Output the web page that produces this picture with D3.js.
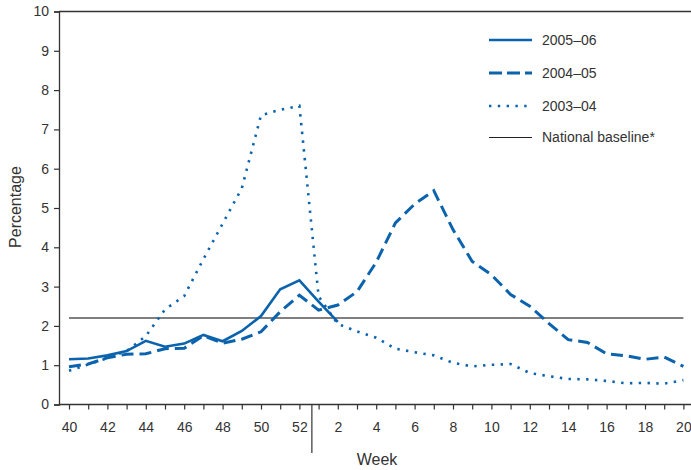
<!DOCTYPE html>
<html>
<head>
<meta charset="utf-8">
<script src="https://cdn.jsdelivr.net/npm/d3@7"></script>
<style>
  body { margin: 0; background: #fff; }
  svg text { font-family: "Liberation Sans", Arial, Helvetica, sans-serif; fill: #333; }
</style>
</head>
<body>
<svg id="chart" width="691" height="470"></svg>
<script>
// week labels, 40..52 then 1..20 of the next year
const weeks = [40, 41, 42, 43, 44, 45, 46, 47, 48, 49, 50, 51, 52,
  1, 2, 3, 4, 5, 6, 7, 8, 9, 10, 11, 12, 13, 14, 15, 16, 17, 18, 19, 20];

const season0506 = [1.15, 1.17, 1.25, 1.36, 1.62, 1.47, 1.55, 1.77, 1.61, 1.87,
  2.25, 2.93, 3.16, 2.62, 2.10];

const season0405 = [0.96, 1.03, 1.19, 1.28, 1.29, 1.42, 1.43, 1.75, 1.56, 1.66,
  1.85, 2.36, 2.78, 2.40, 2.53, 2.87, 3.62, 4.62, 5.10, 5.44, 4.45, 3.64, 3.30,
  2.80, 2.50, 2.06, 1.65, 1.58, 1.29, 1.24, 1.15, 1.21, 0.97];

const season0304 = [0.86, 1.02, 1.18, 1.36, 1.74, 2.42, 2.76, 3.70, 4.60, 5.50,
  7.36, 7.50, 7.60, 2.75, 2.05, 1.86, 1.70, 1.42, 1.33, 1.25, 1.06, 0.97, 1.01,
  1.03, 0.80, 0.72, 0.65, 0.64, 0.60, 0.54, 0.55, 0.53, 0.62];

const baseline = 2.2;
const yTicks = [0, 1, 2, 3, 4, 5, 6, 7, 8, 9, 10];

const seriesNames = ['2005–06', '2004–05', '2003–04'];
const blue = '#0b63ad';

const svg = d3.select('#chart');

let x = d3.scaleLinear().domain([0, weeks.length - 1]).range([69, 683.4]);
let y = d3.scaleLinear().domain([0, 10]).range([404.5, 11.5]);

// frame: top rule + left and bottom axes
svg.append('line')
  .attr('x1', 59).attr('x2', 691)
  .attr('y1', y(10)).attr('y2', y(10))
  .attr('stroke', '#333').attr('stroke-width', 1.3);

const yAxis = svg.append('g')
  .attr('transform', 'translate(59,0)')
  .call(d3.axisLeft(y).tickValues(yTicks).tickSize(5).tickPadding(5).tickFormat(d3.format('d')));
yAxis.select('.domain').attr('stroke', '#333').attr('stroke-width', 1.3);
yAxis.selectAll('.tick line').attr('stroke', '#333').attr('stroke-width', 1.2);
yAxis.selectAll('text').style('font-size', '14px').style('fill', '#333');

const xAxis = svg.append('g')
  .attr('transform', `translate(0,${y(0)})`)
  .call(d3.axisBottom(x)
    .tickValues(d3.range(weeks.length))
    .tickSize(5)
    .tickPadding(13)
    .tickFormat((i) => (weeks[i] % 2 === 0 ? weeks[i] : '')));
xAxis.select('.domain').remove();
xAxis.selectAll('.tick line').attr('stroke', '#333').attr('stroke-width', 1.2);
xAxis.selectAll('text').style('font-size', '14px').style('fill', '#333');
svg.append('line')
  .attr('x1', 59).attr('x2', 691)
  .attr('y1', y(0)).attr('y2', y(0))
  .attr('stroke', '#333').attr('stroke-width', 1.3);

// year divider between week 52 and week 1
svg.append('line')
  .attr('x1', x(12.65)).attr('x2', x(12.65))
  .attr('y1', y(0)).attr('y2', 453)
  .attr('stroke', '#333').attr('stroke-width', 1.2);

// axis titles
svg.append('text')
  .attr('transform', 'translate(20.5,207) rotate(-90)')
  .attr('text-anchor', 'middle')
  .style('font-size', '16px')
  .text('Percentage');

svg.append('text')
  .attr('x', 377).attr('y', 465)
  .attr('text-anchor', 'middle')
  .style('font-size', '16px')
  .text('Week');

// national baseline
svg.append('line')
  .attr('x1', x(0)).attr('x2', x(weeks.length - 1))
  .attr('y1', y(baseline)).attr('y2', y(baseline))
  .attr('stroke', '#555').attr('stroke-width', 1.5);

const line = d3.line()
  .x((d, i) => x(i))
  .y((d) => y(d));

const styles = [
  { data: season0506, dash: null, width: 2.6 },
  { data: season0405, dash: '12,6', width: 3 },
  { data: season0304, dash: '2.4,6.4', width: 2.6 }
];

svg.selectAll('path.season')
  .data(styles)
  .enter()
  .append('path')
  .classed('season', true)
  .attr('d', (d) => line(d.data))
  .attr('fill', 'none')
  .attr('stroke', blue)
  .attr('stroke-width', (d) => d.width)
  .attr('stroke-dasharray', (d) => d.dash);

// LEGEND
const legendRows = [
  { label: seriesNames[0], dash: null, width: 2.6, color: blue },
  { label: seriesNames[1], dash: '13,5', width: 3, color: blue },
  { label: seriesNames[2], dash: '2.4,6.4', width: 2.6, color: blue },
  { label: 'National baseline*', dash: null, width: 1.1, color: '#222' }
];
const legendY = [40, 73, 106, 137.5];

const legend = svg.selectAll('g.legend')
  .data(legendRows)
  .enter()
  .append('g')
  .classed('legend', true)
  .attr('transform', (d, i) => `translate(489,${legendY[i]})`);

legend.append('line')
  .attr('x1', 0).attr('x2', 43)
  .attr('stroke', (d) => d.color)
  .attr('stroke-width', (d) => d.width)
  .attr('stroke-dasharray', (d) => d.dash);

legend.append('text')
  .attr('x', 53)
  .attr('dy', '0.35em')
  .style('font-size', '14px')
  .text((d) => d.label);
</script>
</body>
</html>
